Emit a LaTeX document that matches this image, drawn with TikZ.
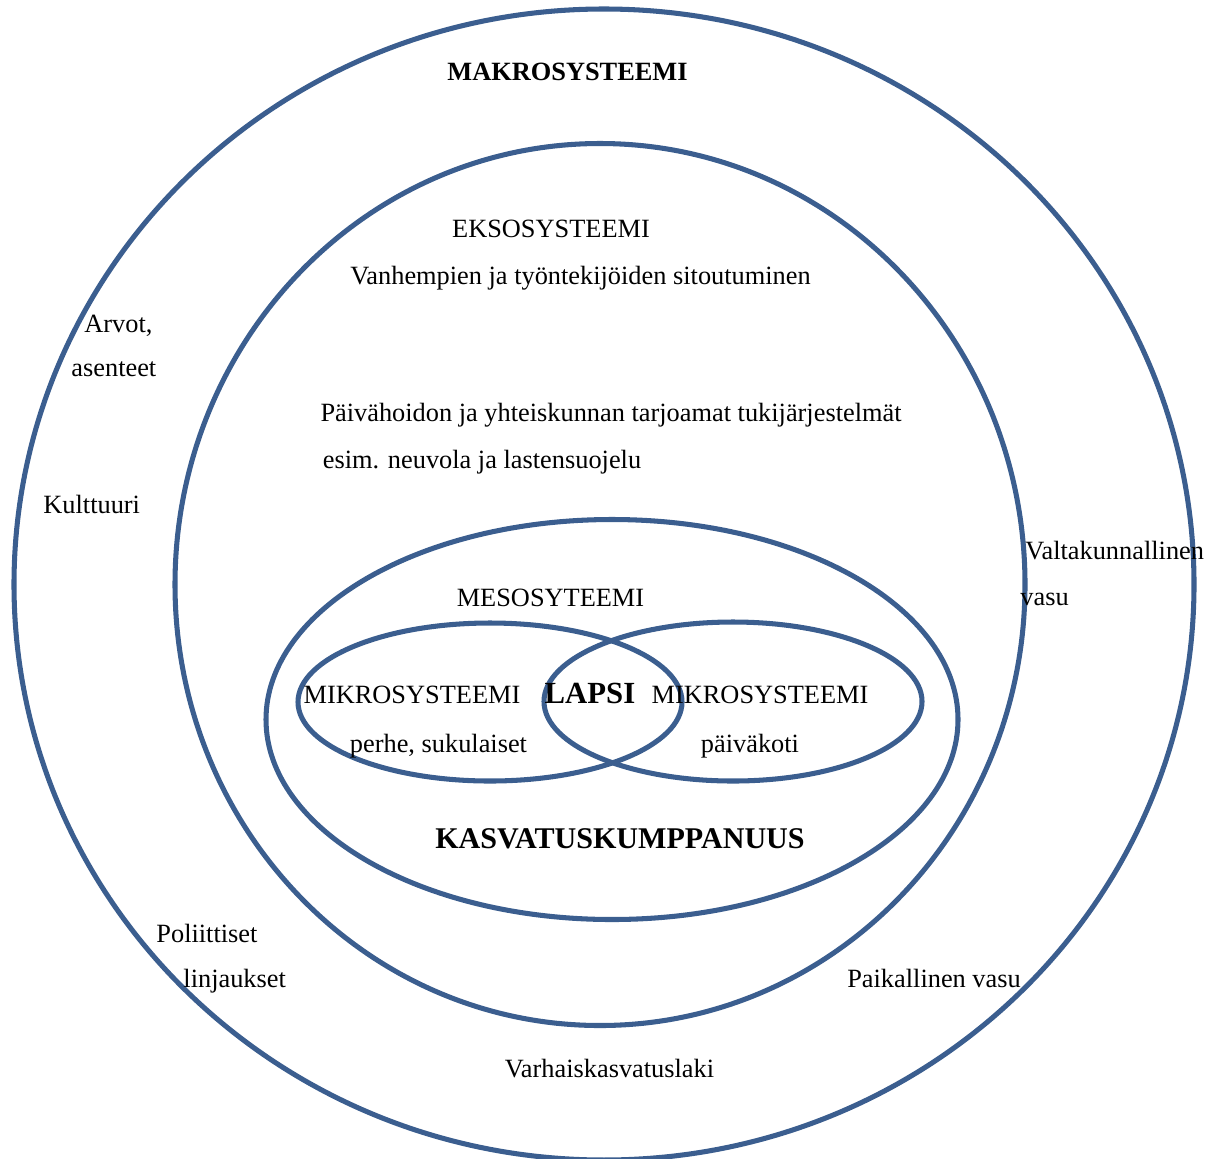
\documentclass[tikz,border=0pt]{standalone}
\usepackage{fontspec}
\setmainfont{Liberation Serif}
\definecolor{ringblue}{RGB}{59,94,143}

\begin{document}
\begin{tikzpicture}[x=0.016cm,y=-0.016cm,
    ring/.style={draw=ringblue,line width=2.3pt},
    txt/.style={font=\fontsize{12}{14}\selectfont,inner sep=0pt,anchor=base},
    txtl/.style={txt,anchor=base west},
    txtb/.style={txt,font=\fontsize{12}{14}\selectfont\bfseries}]
\useasboundingbox (0,0) rectangle (1216,1158);

% the rings, outermost first
\draw[ring] (604,584.5) ellipse [x radius=590,y radius=575.5];
\draw[ring] (600,584.5) ellipse [x radius=425,y radius=441];
\draw[ring] (612,719.5) ellipse [x radius=346,y radius=200];
\draw[ring] (490,702) ellipse [x radius=192,y radius=79];
\draw[ring] (733,701.5) ellipse [x radius=189,y radius=79.5];

% makrosysteemi
\node[txtb] (makro) at (567.5,80) {MAKROSYSTEEMI};
\node[txtl] (arvot) at (84,332) {Arvot,};
\node[txtl] (asenteet) at (71,376) {asenteet};
\node[txtl] (kulttuuri) at (43,513) {Kulttuuri};
\node[txtl] (valtak) at (1025,559) {Valtakunnallinen};
\node[txtl] (vasu) at (1020,605) {vasu};
\node[txtl] (poliit) at (156,942) {Poliittiset};
\node[txtl] (linjauk) at (183,987) {linjaukset};
\node[txt] (paikal) at (934,987) {Paikallinen vasu};
\node[txt] (laki) at (609.5,1077) {Varhaiskasvatuslaki};

% eksosysteemi
\node[txt] (ekso) at (551,237) {EKSOSYSTEEMI};
\node[txt] (sitout) at (580.5,284) {Vanhempien ja työntekijöiden sitoutuminen};
\node[txt] (tuki) at (611,421) {Päivähoidon ja yhteiskunnan tarjoamat tukijärjestelmät};
\node[txt] (esim) at (482,468) {esim. neuvola ja lastensuojelu};

% mesosysteemi
\node[txt] (meso) at (550.5,606) {MESOSYTEEMI};
\node[txt] (mikro1) at (412,703) {MIKROSYSTEEMI};
\node[txt] (perhe) at (438.5,752) {perhe, sukulaiset};
\node[txt] (mikro2) at (760,703) {MIKROSYSTEEMI};
\node[txt] (pvk) at (750,752) {päiväkoti};
\node[txtb,font=\fontsize{14}{16}\selectfont\bfseries] (lapsi) at (590,703) {LAPSI};
\node[txtb,font=\fontsize{13.7}{16}\selectfont\bfseries] (kumpp) at (620,848) {KASVATUSKUMPPANUUS};
\end{tikzpicture}
\end{document}
